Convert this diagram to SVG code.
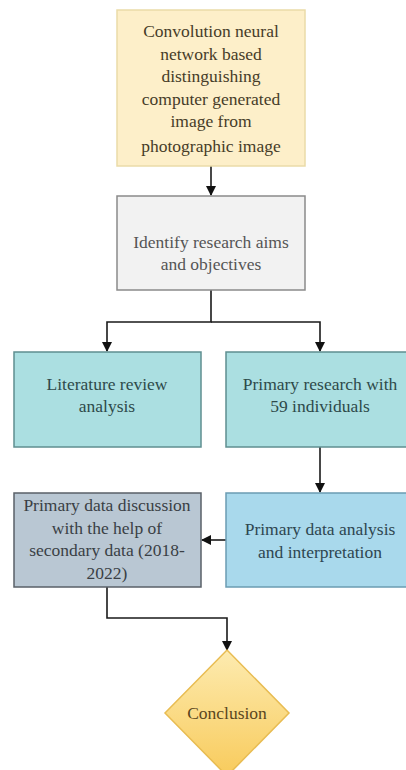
<svg xmlns="http://www.w3.org/2000/svg" width="406" height="770" viewBox="0 0 406 770">
<defs>
<marker id="ah" markerWidth="10" markerHeight="10" refX="9" refY="5" orient="auto" markerUnits="userSpaceOnUse">
<path d="M0,0 L10,5 L0,10 z" fill="#111"/>
</marker>
<linearGradient id="dg" x1="0" y1="0" x2="0" y2="1">
<stop offset="0" stop-color="#fdebb0"/>
<stop offset="1" stop-color="#f8cb5c"/>
</linearGradient>
</defs>
<rect width="406" height="770" fill="#fff"/>
<g id="connectors" fill="none" stroke="#1a1a1a" stroke-width="1.6">
<path d="M211,166 V195" marker-end="url(#ah)"/>
<path d="M211,290 V322 H107 V351" marker-end="url(#ah)"/>
<path d="M211,322 H320 V351" marker-end="url(#ah)"/>
<path d="M320,447 V492" marker-end="url(#ah)"/>
<path d="M226,540 H202" marker-end="url(#ah)"/>
<path d="M107,587 V618 H227 V650" marker-end="url(#ah)"/>
</g>
<g id="n1">
<rect x="117" y="10" width="188" height="156" fill="#fdefc9" stroke="#eadba8" stroke-width="1.5"/>
<text x="211" y="37" font-family="serif" font-size="17.5" text-anchor="middle" fill="#463c28">Convolution neural</text>
<text x="211" y="60" font-family="serif" font-size="17.5" text-anchor="middle" fill="#463c28">network based</text>
<text x="211" y="82" font-family="serif" font-size="17.5" text-anchor="middle" fill="#463c28">distinguishing</text>
<text x="211" y="105" font-family="serif" font-size="17.5" text-anchor="middle" fill="#463c28">computer generated</text>
<text x="211" y="127" font-family="serif" font-size="17.5" text-anchor="middle" fill="#463c28">image from</text>
<text x="211" y="152" font-family="serif" font-size="17.5" text-anchor="middle" fill="#463c28">photographic image</text>
</g>
<g id="n2">
<rect x="117" y="196" width="188" height="94" fill="#f2f2f2" stroke="#8a8a8a" stroke-width="1.5"/>
<text x="211" y="248" font-family="serif" font-size="17.5" text-anchor="middle" fill="#555">Identify research aims</text>
<text x="211" y="270" font-family="serif" font-size="17.5" text-anchor="middle" fill="#555">and objectives</text>
</g>
<g id="n3">
<rect x="14" y="352" width="187" height="95" fill="#abdfe1" stroke="#5f8f90" stroke-width="1.5"/>
<text x="107" y="390" font-family="serif" font-size="17.5" text-anchor="middle" fill="#2e4a4a">Literature review</text>
<text x="107" y="412" font-family="serif" font-size="17.5" text-anchor="middle" fill="#2e4a4a">analysis</text>
</g>
<g id="n4">
<rect x="226" y="352" width="188" height="95" fill="#abdfe1" stroke="#5f8f90" stroke-width="1.5"/>
<text x="320" y="390" font-family="serif" font-size="17.5" text-anchor="middle" fill="#2e4a4a">Primary research with</text>
<text x="320" y="412" font-family="serif" font-size="17.5" text-anchor="middle" fill="#2e4a4a">59 individuals</text>
</g>
<g id="n5">
<rect x="226" y="493" width="188" height="94" fill="#a9d9ec" stroke="#6b9cb2" stroke-width="1.5"/>
<text x="320" y="535" font-family="serif" font-size="17.5" text-anchor="middle" fill="#2e4650">Primary data analysis</text>
<text x="320" y="558" font-family="serif" font-size="17.5" text-anchor="middle" fill="#2e4650">and interpretation</text>
</g>
<g id="n6">
<rect x="14" y="493" width="187" height="94" fill="#b9c7d3" stroke="#5a6068" stroke-width="1.5"/>
<text x="107" y="511" font-family="serif" font-size="17.5" text-anchor="middle" fill="#3a3f45">Primary data discussion</text>
<text x="107" y="534" font-family="serif" font-size="17.5" text-anchor="middle" fill="#3a3f45">with the help of</text>
<text x="107" y="556" font-family="serif" font-size="17.5" text-anchor="middle" fill="#3a3f45">secondary data (2018-</text>
<text x="107" y="579" font-family="serif" font-size="17.5" text-anchor="middle" fill="#3a3f45">2022)</text>
</g>
<g id="n7">
<path d="M227,650 L289,713 L227,776 L165,713 z" fill="url(#dg)" stroke="#e8bc52" stroke-width="1.5"/>
<text x="227" y="719" font-family="serif" font-size="17.5" text-anchor="middle" fill="#5a4620">Conclusion</text>
</g>
</svg>
